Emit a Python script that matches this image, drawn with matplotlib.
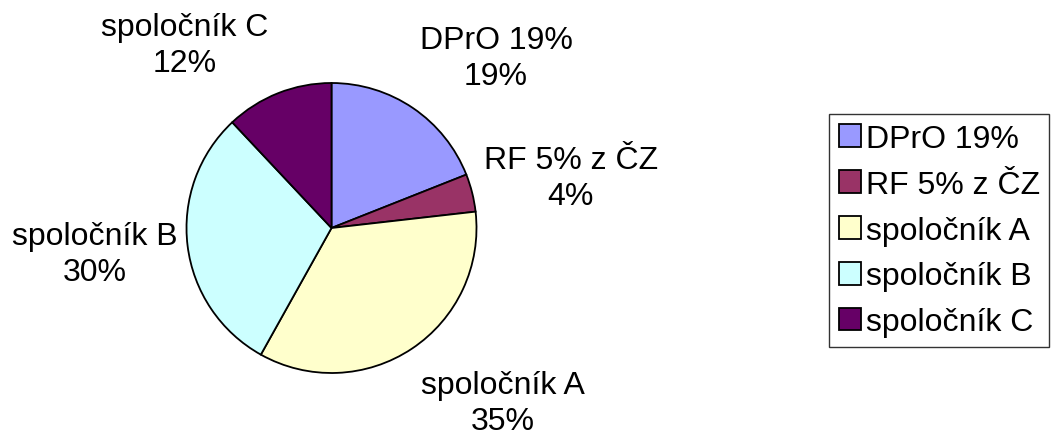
import matplotlib
matplotlib.use("Agg")
import matplotlib.pyplot as plt

# data
labels = ["DPrO 19%", "RF 5% z ČZ", "spoločník A", "spoločník B", "spoločník C"]
values = [19.0, 4.2, 34.9, 29.9, 12.0]
colors = ["#9999FF", "#993366", "#FFFFCC", "#CCFFFF", "#660066"]

# label placement (in pie-radius units, relative to pie centre)
label_pos = [(1.135, 1.174), (1.649, 0.347), (1.181, -1.205),
             (-1.635, -0.181), (-1.010, 1.264)]

plt.rcParams['font.family'] = ['Liberation Sans', 'DejaVu Sans']

W, H = 1053, 435
cx, cy, R = 331.5, 229, 145  # pie centre and radius in pixels
fig = plt.figure(figsize=(W / 100, H / 100), dpi=100)
ax = fig.add_axes([0, 0, 1, 1])

wedges, _ = ax.pie(values, colors=colors, startangle=90, counterclock=False,
                   radius=1, wedgeprops=dict(edgecolor='black', linewidth=1.3))

# pie() resets the limits, so set them afterwards
ax.set_xlim(-cx / R, (W - cx) / R)
ax.set_ylim(-(H - cy) / R, cy / R)
ax.set_aspect('equal')
ax.axis('off')

total = sum(values)
for lab, v, (tx, ty) in zip(labels, values, label_pos):
    ax.text(tx, ty, f"{lab}\n{round(100 * v / total):.0f}%", ha='center', va='center',
            fontsize=23, linespacing=1.25)

leg = fig.legend(wedges, labels, loc='upper left',
                 bbox_to_anchor=(829 / W, 1 - 115 / H), fontsize=23,
                 frameon=True, fancybox=False, edgecolor='black',
                 handlelength=0.7, handleheight=0.7, handletextpad=0.15,
                 labelspacing=0.5, borderpad=0.3, borderaxespad=0)
leg.get_frame().set_linewidth(1.0)
for h in leg.legend_handles:
    h.set_linewidth(1.3)

fig.savefig("out.png", dpi=100)
